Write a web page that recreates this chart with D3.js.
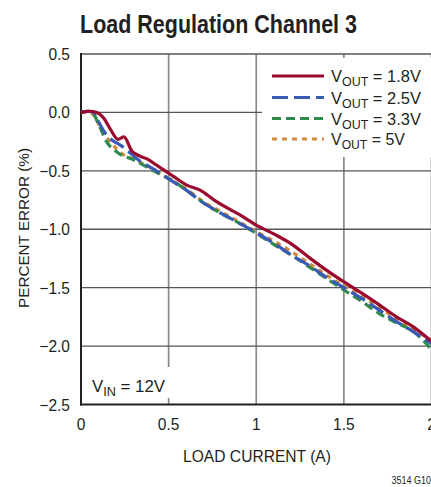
<!DOCTYPE html>
<html><head><meta charset="utf-8">
<script src="https://cdn.jsdelivr.net/npm/d3@7"></script>
<style>
html,body{margin:0;padding:0;background:#fff;overflow:hidden}
svg text{font-family:"Liberation Sans",Arial,Helvetica,sans-serif;fill:#231f20}
</style></head><body>
<svg id="c" width="431" height="487"></svg>
<script>
const xTicks=[0,0.5,1,1.5,2];
const xTickLabels=["0","0.5","1","1.5","2"];
const yTicks=[0.5,0,-0.5,-1,-1.5,-2,-2.5];
const yTickLabels=["0.5","0.0","\u22120.5","\u22121.0","\u22121.5","\u22122.0","\u22122.5"];
const seriesNames=["1.8V","2.5V","3.3V","5V"];
const v18=[[0,0],[0.05,0.01],[0.09,0.0],[0.13,-0.05],[0.17,-0.15],[0.21,-0.23],[0.245,-0.21],[0.29,-0.33],[0.33,-0.37],[0.38,-0.40],[0.43,-0.45],[0.5,-0.52],[0.53,-0.55],[0.6,-0.62],[0.68,-0.665],[0.76,-0.75],[0.85,-0.83],[0.9,-0.87],[1.0,-0.965],[1.1,-1.04],[1.2,-1.125],[1.3,-1.24],[1.4,-1.35],[1.5,-1.45],[1.6,-1.545],[1.7,-1.645],[1.8,-1.75],[1.9,-1.84],[2.0,-1.96]];
const v25=[[0,0],[0.04,0.01],[0.07,0.0],[0.1,-0.08],[0.14,-0.18],[0.18,-0.24],[0.22,-0.275],[0.26,-0.32],[0.33,-0.41],[0.42,-0.49],[0.5,-0.57],[0.6,-0.665],[0.7,-0.775],[0.8,-0.865],[0.9,-0.945],[1.0,-1.03],[1.1,-1.12],[1.2,-1.22],[1.3,-1.31],[1.4,-1.41],[1.5,-1.5],[1.6,-1.59],[1.7,-1.69],[1.8,-1.79],[1.9,-1.88],[2.0,-1.98]];
const v33=[[0,0],[0.04,0.01],[0.07,-0.01],[0.1,-0.1],[0.146,-0.25],[0.21,-0.345],[0.3,-0.405],[0.42,-0.505],[0.53,-0.59],[0.6,-0.665],[0.7,-0.775],[0.8,-0.865],[0.9,-0.945],[1.0,-1.035],[1.1,-1.13],[1.2,-1.22],[1.3,-1.32],[1.4,-1.42],[1.5,-1.52],[1.6,-1.615],[1.7,-1.72],[1.8,-1.8],[1.9,-1.88],[2.0,-2.03]];
const v5=[[0,0],[0.04,0.0],[0.07,-0.02],[0.117,-0.15],[0.175,-0.265],[0.23,-0.35],[0.3,-0.4],[0.37,-0.45],[0.48,-0.55],[0.6,-0.655],[0.7,-0.765],[0.8,-0.85],[0.9,-0.935],[1.0,-1.02],[1.1,-1.1],[1.2,-1.19],[1.3,-1.29],[1.4,-1.39],[1.5,-1.485],[1.6,-1.57],[1.7,-1.67],[1.8,-1.765],[1.9,-1.86],[2.0,-1.95]];

const svg=d3.select("#c");
const L=81,R=431.5,T=54,B=404.5;
const x=d3.scaleLinear().domain([0,2]).range([L,R]);
const y=d3.scaleLinear().domain([-2.5,0.5]).range([B,T]);

function txt(px,py,opts){
  const g=svg.append("g").attr("transform",`translate(${px},${py})${opts.rot?" rotate("+opts.rot+")":""}`);
  const t=g.append("text").attr("x",0).attr("y",0).attr("font-size",opts.size)
    .attr("text-anchor",opts.anchor||"start");
  if(opts.bold) t.attr("font-weight","bold");
  return {g,t,fit(){ if(opts.w){const w=t.node().getBBox().width; t.attr("transform",`scale(${opts.w/w},1)`);} else if(opts.sx){t.attr("transform",`scale(${opts.sx},1)`);} }};
}

svg.selectAll(".vg").data(xTicks.slice(1)).enter().append("line")
 .attr("x1",d=>x(d)).attr("x2",d=>x(d)).attr("y1",T).attr("y2",B)
 .attr("stroke","#8a8a8a").attr("stroke-width",1.7);
svg.selectAll(".hg").data(yTicks.slice(0,-1)).enter().append("line")
 .attr("x1",L).attr("x2",R).attr("y1",d=>y(d)).attr("y2",d=>y(d))
 .attr("stroke","#555").attr("stroke-width",1.4);

svg.append("rect").attr("x",262).attr("y",58).attr("width",175).attr("height",99).attr("fill","#fff");
svg.append("rect").attr("x",86).attr("y",367).attr("width",84).attr("height",31).attr("fill","#fff");

svg.append("line").attr("x1",L).attr("x2",L).attr("y1",T-1).attr("y2",B+1).attr("stroke","#231f20").attr("stroke-width",2);
svg.append("line").attr("x1",L-1).attr("x2",R).attr("y1",B).attr("y2",B).attr("stroke","#231f20").attr("stroke-width",2);

yTicks.forEach((d,i)=>{const o=txt(70,y(d)+6,{size:16.5,anchor:"end",sx:0.94}); o.t.text(yTickLabels[i]); o.fit();});
xTicks.forEach((d,i)=>{const o=txt(x(d),430,{size:16.5,anchor:"middle",sx:0.94}); o.t.text(xTickLabels[i]); o.fit();});

{const o=txt(80,33,{size:25.5,bold:true,w:277}); o.t.text("Load Regulation Channel 3"); o.fit();}
{const o=txt(257,462,{size:16.5,anchor:"middle",w:148}); o.t.text("LOAD CURRENT (A)"); o.fit();}
{const o=txt(29,228,{size:15.5,anchor:"middle",rot:-90,w:160}); o.t.text("PERCENT ERROR (%)"); o.fit();}
{const o=txt(431,484,{size:10,anchor:"end",sx:0.9}); o.t.text("3514 G10"); o.fit();}

{const o=txt(92,392,{size:16.5,w:73});
 o.t.append("tspan").text("V");
 o.t.append("tspan").attr("font-size",12.5).attr("dy",4).text("IN");
 o.t.append("tspan").attr("dy",-4).text(" = 12V"); o.fit();}

const styles=[
 {c:"#9b0a2d",d:null},
 {c:"#3a5bb5",d:"16,6"},
 {c:"#2e8b4a",d:"9,5"},
 {c:"#d4893f",d:"5,5"}];
const data=[v18,v25,v33,v5];
const line=d3.line().x(d=>x(d[0])).y(d=>y(d[1])).curve(d3.curveMonotoneX);
[3,2,1,0].forEach(i=>{
 svg.append("path").datum(data[i]).attr("d",line).attr("fill","none")
  .attr("stroke",styles[i].c).attr("stroke-width",3.2)
  .attr("stroke-dasharray",styles[i].d);
});

const ly=[76,97.5,118.5,139];
const lw=[90,90,90,74];
seriesNames.forEach((n,i)=>{
 svg.append("line").attr("x1",272).attr("x2",324).attr("y1",ly[i]).attr("y2",ly[i])
  .attr("stroke",styles[i].c).attr("stroke-width",3.2).attr("stroke-dasharray",styles[i].d);
 const o=txt(331,ly[i]+6,{size:16.5,w:lw[i]});
 o.t.append("tspan").text("V");
 o.t.append("tspan").attr("font-size",12.5).attr("dy",4).text("OUT");
 o.t.append("tspan").attr("dy",-4).text(" = "+n);
 o.fit();
});
</script></body></html>
